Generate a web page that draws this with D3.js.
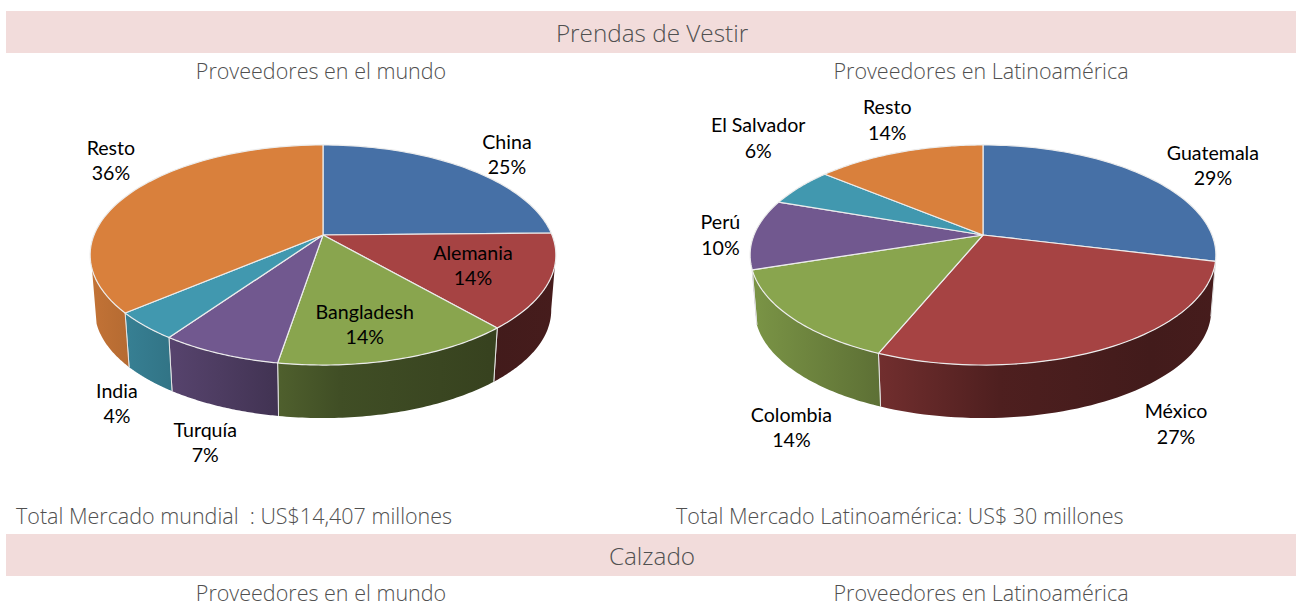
<!DOCTYPE html>
<html><head><meta charset="utf-8">
<script src="https://cdn.jsdelivr.net/npm/d3@7/dist/d3.min.js"></script>
<style>html,body{margin:0;padding:0;background:#fff}svg{display:block}text{white-space:pre}</style>
</head><body><svg id="c" width="1301" height="604"></svg>
<script>
// --- data ---
const worldCategories = ["China","Alemania","Bangladesh","Turquía","India","Resto"];
const worldValues = [24.7,13.9,14.0,7.1,4.1,36.2];
const latamCategories = ["Guatemala","México","Colombia","Perú","El Salvador","Resto"];
const latamValues = [28.8,27.4,13.8,10.3,5.7,14.0];
const bandTitles = ["Prendas de Vestir","Calzado"];
const subtitles = ["Proveedores en el mundo","Proveedores en Latinoamérica"];
const totals = ["Total Mercado mundial  : US$14,407 millones","Total Mercado Latinoamérica: US$ 30 millones"];

// --- layout / style ---
const colors = ["#4670a6","#a64343","#89a54e","#71588f","#4198af","#d9803c"];
const worldNudges = [[42,-13],[-76,-16],[-34,-34.5],[-14,89],[-28,78],[-19,-32.5]];
const latamNudges = [[68,-10],[69,76],[0,110],[-34,1.5],[-41.5,-49],[-12,-32]];
const shade = [[0,.9],[130,.68],[250,.47],[400,.4],[466,.42]];
const HUB_Y = 235, A = 229, B = 106.4, P = 0.1818, DROP = 55.6, BASE = 0.98;
const WALL_FROM = 100*Math.PI/180, WALL_TO = 252.5*Math.PI/180;
const svg = d3.select("#c"), defs = svg.append("defs");
const titleFont = "'Open Sans', sans-serif", labelFont = "Lato, sans-serif";
const titleInk = "#505050";

function bands(){
  const y0 = [11,534];
  bandTitles.forEach((t,i)=>{
    svg.append("rect").attr("x",6).attr("y",y0[i]).attr("width",1290).attr("height",42).attr("fill","#f2dcdb");
    svg.append("text").attr("x",652).attr("y",y0[i]+31).attr("text-anchor","middle")
      .attr("font-family",titleFont).attr("font-weight",300).attr("font-size",24.3).attr("fill",titleInk).text(t);
  });
  [79,601].forEach(y=>{
    subtitles.forEach((t,i)=>svg.append("text").attr("x",[321,981][i]).attr("y",y).attr("text-anchor","middle")
      .attr("font-family",titleFont).attr("font-weight",300).attr("font-size",21.5).attr("fill",titleInk).text(t));
  });
  totals.forEach((t,i)=>svg.append("text").attr("x",[16,676][i]).attr("y",524)
      .attr("font-family",titleFont).attr("font-weight",300).attr("font-size",21.5).attr("fill",titleInk).text(t));
}

function drawPie(id,cx,cats,vals,nudges){
  const arcs = d3.pie().sort(null).value(d=>d)(vals);
  const proj = (th,s=1,dy=0)=>{
    const X=Math.sin(th),Y=Math.cos(th),w=1+P*Y;
    return [cx+s*A*X/w, HUB_Y+dy-s*B*Y/w];
  };
  const samples=(a,b)=>d3.range(0,61).map(i=>a+(b-a)*i/60);
  const line=d3.line();
  const g=svg.append("g");
  const xShade=d3.scaleLinear().domain(shade.map(d=>d[0])).range(shade.map(d=>d[1]));
  arcs.forEach((d,i)=>{
    const a=Math.max(d.startAngle,WALL_FROM), b=Math.min(d.endAngle,WALL_TO);
    if(b<=a) return;
    const gid=`${id}-w${i}`;
    const grad=defs.append("linearGradient").attr("id",gid).attr("gradientUnits","userSpaceOnUse")
      .attr("x1",cx-233).attr("x2",cx+233).attr("y1",0).attr("y2",0);
    shade.forEach(s=>{
      const c=d3.rgb(colors[i]);
      grad.append("stop").attr("offset",s[0]/466)
        .attr("stop-color",d3.rgb(c.r*xShade(s[0]),c.g*xShade(s[0]),c.b*xShade(s[0])).formatHex());
    });
    const th=samples(a,b);
    const pts=th.map(t=>proj(t)).concat(th.slice().reverse().map(t=>proj(t,BASE,DROP)));
    g.append("path").attr("d",line(pts)+"Z").attr("fill",`url(#${gid})`).attr("stroke","none");
    [d.startAngle,d.endAngle].forEach(t=>{
      if(t>WALL_FROM && t<WALL_TO) g.append("path").attr("d",line([proj(t),proj(t,BASE,DROP)]))
        .attr("stroke","#e4e4e4").attr("stroke-width",1).attr("fill","none");
    });
  });
  // top face
  arcs.forEach((d,i)=>{
    const pts=[[cx,HUB_Y]].concat(samples(d.startAngle,d.endAngle).map(t=>proj(t)));
    g.append("path").attr("d",line(pts)+"Z").attr("fill",colors[i])
      .attr("stroke","#ececec").attr("stroke-width",1.2).attr("stroke-linejoin","round");
  });
  // labels
  const pct=d3.format(".0f");
  arcs.forEach((d,i)=>{
    const p=proj((d.startAngle+d.endAngle)/2);
    const x=p[0]+nudges[i][0], y=p[1]+nudges[i][1];
    const t=svg.append("text").attr("text-anchor","middle").attr("font-family",labelFont)
      .attr("font-size",19.6).attr("fill","#000");
    t.append("tspan").attr("x",x).attr("y",y-6).text(cats[i]);
    t.append("tspan").attr("x",x).attr("y",y+19.5).text(pct(d.data)+"%");
  });
}
bands();
drawPie("w",323,worldCategories,worldValues,worldNudges);
drawPie("l",983,latamCategories,latamValues,latamNudges);
</script></body></html>
